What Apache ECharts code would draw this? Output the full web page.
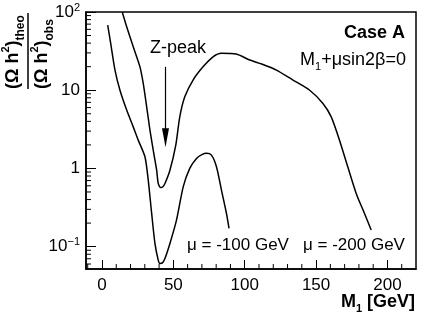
<!DOCTYPE html>
<html><head><meta charset="utf-8">
<script src="https://cdn.jsdelivr.net/npm/echarts@6/dist/echarts.min.js"></script>
<style>html,body{margin:0;padding:0;background:#fff}#c{width:433px;height:314px}</style>
</head><body><div id="c"></div>
<script>
// ---- data ----
const mu100X = [4.0, 6.1, 9.1, 12.6, 17.3, 21.9, 25.4, 30.1, 32.4, 34.8, 37.1, 39.4, 40.6, 42.3, 44.1, 47.6, 52.2, 56.9, 61.5, 66.2, 70.0, 73.2, 76.7, 80.2, 83.7, 87.2, 89.0];
const mu100Y = [68, 39.7, 18.1, 10.0, 5.57, 3.40, 2.30, 1.41, 0.71, 0.266, 0.110, 0.0673, 0.061, 0.062, 0.0706, 0.110, 0.218, 0.582, 1.0, 1.34, 1.50, 1.56, 1.48, 1.05, 0.528, 0.266, 0.171];
const mu200X = [14.2, 17.3, 21.9, 26.6, 28.9, 31.3, 33.6, 35.9, 38.3, 39.4, 41.0, 42.5, 44.1, 47.6, 51.7, 54.5, 58.0, 63.8, 70.8, 77.8, 83.7, 94.0, 103.5, 111.9, 122.2, 133.8, 145.5, 154.8, 160.6, 166.4, 172.2, 178.1, 183.9, 188.6];
const mu200Y = [100, 64.7, 35.9, 19.9, 12.2, 6.14, 3.09, 1.71, 0.95, 0.643, 0.571, 0.58, 0.643, 0.95, 1.99, 4.57, 8.24, 13.5, 19.9, 26.7, 29.6, 29.0, 24.3, 21.6, 18.1, 13.5, 10.0, 6.78, 4.57, 2.30, 1.05, 0.479, 0.266, 0.163];
const xTickValues = [0, 50, 100, 150, 200];
const xMinorTicks = [-10, 10, 20, 30, 40, 60, 70, 80, 90, 110, 120, 130, 140, 160, 170, 180, 190, 210];
const yTickValues = [0.1, 1, 10, 100];
const yTickLabels = {'0.1': '{b|10}{s|−1}', '1': '{b|1}', '10': '{b|10}', '100': '{b|10}{s|2}'};
const yMinorTicks = [0.06, 0.07, 0.08, 0.09, 0.2, 0.3, 0.4, 0.5, 0.6, 0.7, 0.8, 0.9, 2, 3, 4, 5, 6, 7, 8, 9, 20, 30, 40, 50, 60, 70, 80, 90];
const arrowX = 44.5, arrowTop = 19.9, arrowTip = 1.87;
const X_MIN = -11.2, X_MAX = 220, Y_MIN = 0.0518, Y_MAX = 100;

const FONT = 'Liberation Sans';
const chart = echarts.init(document.getElementById('c'), null, {renderer: 'canvas'});

function zip(a, b) { return a.map((v, i) => [v, b[i]]); }

const option = {
  animation: false,
  backgroundColor: '#fff',
  textStyle: {fontFamily: FONT},
  grid: {left: 86, top: 12, right: 17, bottom: 45, show: true, borderColor: '#000', borderWidth: 1.5, containLabel: false},
  xAxis: {
    type: 'value', min: X_MIN, max: X_MAX,
    axisLine: {show: true, onZero: false, lineStyle: {color: '#000', width: 1.5}},
    axisTick: {show: true, inside: true, length: 9, customValues: xTickValues, lineStyle: {color: '#000', width: 1}},
    axisLabel: {customValues: xTickValues, color: '#000', fontFamily: FONT, fontSize: 17, margin: 8},
    splitLine: {show: false}
  },
  yAxis: {
    type: 'log', logBase: 10, min: Y_MIN, max: Y_MAX,
    axisLine: {show: true, onZero: false, lineStyle: {color: '#000', width: 1.5}},
    axisTick: {show: true, inside: true, length: 10, customValues: yTickValues, lineStyle: {color: '#000', width: 1}},
    axisLabel: {
      customValues: yTickValues, margin: 6,
      formatter: v => yTickLabels[String(+v.toPrecision(3))] || '',
      rich: {
        b: {fontFamily: FONT, fontSize: 17, color: '#000', lineHeight: 20},
        s: {fontFamily: FONT, fontSize: 11, color: '#000', verticalAlign: 'top', lineHeight: 11}
      }
    },
    splitLine: {show: false}
  },
  series: [
    {type: 'line', data: zip(mu100X, mu100Y), showSymbol: false, smooth: 0.25, lineStyle: {color: '#000', width: 1.5}, clip: true},
    {type: 'line', data: zip(mu200X, mu200Y), showSymbol: false, smooth: 0.25, lineStyle: {color: '#000', width: 1.5}, clip: true},
    {
      type: 'custom', coordinateSystem: 'cartesian2d', silent: true, clip: false,
      data: xMinorTicks.map(v => [v, Y_MIN]),
      renderItem: (p, api) => {
        const c = api.coord([api.value(0), api.value(1)]);
        return {type: 'line', shape: {x1: c[0], y1: c[1], x2: c[0], y2: c[1] - 5}, style: {stroke: '#000', lineWidth: 1}};
      }
    },
    {
      type: 'custom', coordinateSystem: 'cartesian2d', silent: true, clip: false,
      data: yMinorTicks.map(v => [X_MIN, v]),
      renderItem: (p, api) => {
        const c = api.coord([api.value(0), api.value(1)]);
        return {type: 'line', shape: {x1: c[0], y1: c[1], x2: c[0] + 5, y2: c[1]}, style: {stroke: '#000', lineWidth: 1}};
      }
    }
  ]
};
chart.setOption(option);

const aTop = chart.convertToPixel({gridIndex: 0}, [arrowX, arrowTop]);
const aTip = chart.convertToPixel({gridIndex: 0}, [arrowX, arrowTip]);
const headLen = 19, headHalf = 3.5;

const txt = (text, x, y, align, extra) => Object.assign({
  type: 'text', x, y,
  style: Object.assign({text, fill: '#000', font: '18px "Liberation Sans"', align, verticalAlign: 'middle'}, extra || {})
});
const fracRich = {
  m: {fontFamily: FONT, fontSize: 18, fontWeight: 'bold', lineHeight: 27, fill: '#000'},
  sp: {fontFamily: FONT, fontSize: 11, fontWeight: 'bold', lineHeight: 12, verticalAlign: 'top', fill: '#000'},
  sb: {fontFamily: FONT, fontSize: 12, fontWeight: 'bold', lineHeight: 12, verticalAlign: 'bottom', fill: '#000'}
};

chart.setOption({
  graphic: [
    {type: 'line', shape: {x1: aTop[0], y1: aTop[1], x2: aTip[0], y2: aTip[1] - headLen + 2}, style: {stroke: '#000', lineWidth: 1.2}},
    {type: 'polygon', shape: {points: [[aTip[0] - headHalf, aTip[1] - headLen], [aTip[0] + headHalf, aTip[1] - headLen], [aTip[0], aTip[1]]]}, style: {fill: '#000'}},
    txt('Case A', 405, 33, 'right', {font: 'bold 18px "Liberation Sans"'}),
    {type: 'text', x: 406, y: 60, style: {
      text: '{m|M}{sb|1}{m|+μsin2β=0}', align: 'right', verticalAlign: 'middle', fill: '#000',
      rich: {
        m: {fontFamily: FONT, fontSize: 18, lineHeight: 24, fill: '#000'},
        sb: {fontFamily: FONT, fontSize: 11, lineHeight: 12, verticalAlign: 'bottom', fill: '#000'}
      }
    }},
    txt('Z-peak', 150, 48, 'left'),
    txt('μ = -100 GeV', 187, 245, 'left', {font: '17px "Liberation Sans"'}),
    txt('μ = -200 GeV', 303, 245, 'left', {font: '17px "Liberation Sans"'}),
    {type: 'text', x: 415, y: 302, style: {
      text: '{m|M}{sb|1}{m| [GeV]}', align: 'right', verticalAlign: 'middle', fill: '#000',
      rich: {
        m: {fontFamily: FONT, fontSize: 18, fontWeight: 'bold', lineHeight: 24, fill: '#000'},
        sb: {fontFamily: FONT, fontSize: 11, fontWeight: 'bold', lineHeight: 12, verticalAlign: 'bottom', fill: '#000'}
      }
    }},
    {
      type: 'group', x: 28, y: 89, rotation: Math.PI / 2,
      children: [
        {type: 'line', shape: {x1: 0, y1: 0, x2: 76, y2: 0}, style: {stroke: '#000', lineWidth: 1.5}},
        {type: 'text', x: 0, y: -1, style: {
          text: '{m|(Ω h}{sp|2}{m|)}{sb|theo}', align: 'left', verticalAlign: 'bottom', fill: '#000', rich: fracRich
        }},
        {type: 'text', x: 0, y: 1, style: {
          text: '{m|(Ω h}{sp|2}{m|)}{sb|obs}', align: 'left', verticalAlign: 'top', fill: '#000', rich: fracRich
        }}
      ]
    }
  ]
});
</script></body></html>
